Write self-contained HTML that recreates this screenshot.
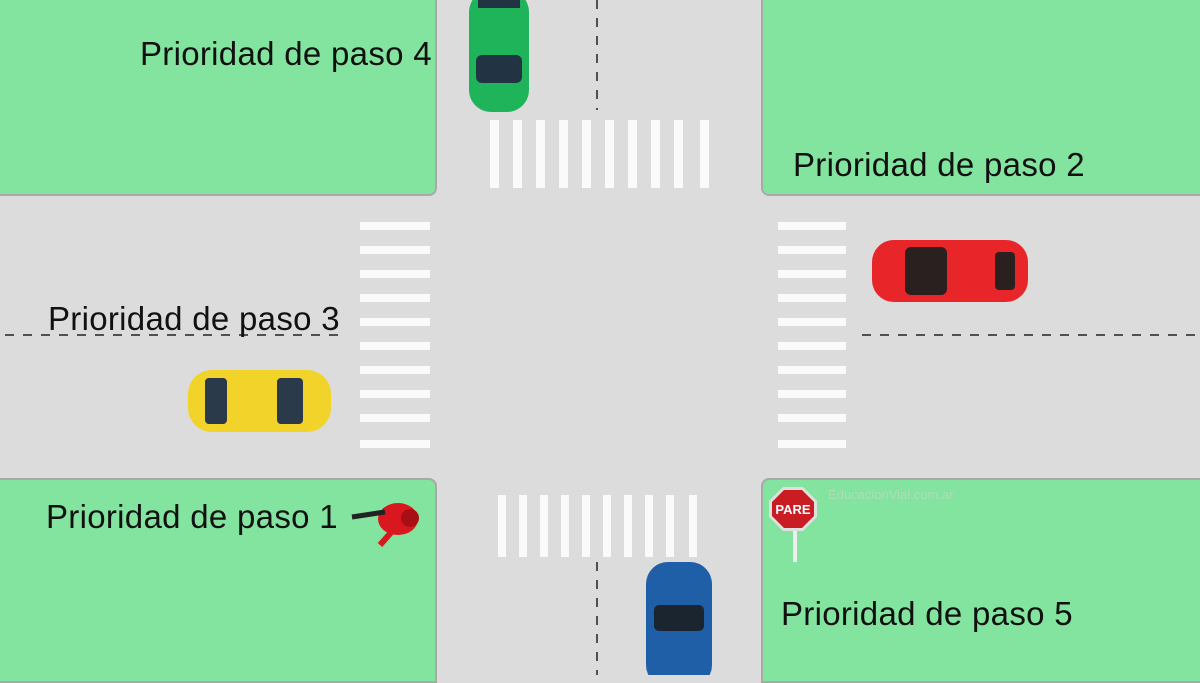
<!DOCTYPE html>
<html><head><meta charset="utf-8"><style>
body{margin:0;width:1200px;height:675px;overflow:hidden;background:#dcdcdc;font-family:"Liberation Sans",sans-serif;position:relative}
.g{position:absolute;background:#82e49e;border:2px solid #a9a9a9;box-sizing:border-box}
.t{position:absolute;font-size:33px;letter-spacing:0.3px;color:#111;white-space:nowrap}
</style></head><body>
<div class="g" style="left:-4px;top:-4px;width:441px;height:200px;border-radius:0 0 8px 0"></div>
<div class="g" style="left:761px;top:-4px;width:445px;height:200px;border-radius:0 0 0 8px"></div>
<div class="g" style="left:-4px;top:478px;width:441px;height:205px;border-radius:0 8px 0 0"></div>
<div class="g" style="left:761px;top:478px;width:445px;height:205px;border-radius:8px 0 0 0"></div>

<svg width="1200" height="675" style="position:absolute;left:0;top:0">
<g fill="#fafafa">
<rect x="490" y="120" width="9" height="68"/><rect x="513" y="120" width="9" height="68"/><rect x="536" y="120" width="9" height="68"/><rect x="559" y="120" width="9" height="68"/><rect x="582" y="120" width="9" height="68"/><rect x="605" y="120" width="9" height="68"/><rect x="628" y="120" width="9" height="68"/><rect x="651" y="120" width="9" height="68"/><rect x="674" y="120" width="9" height="68"/><rect x="700" y="120" width="9" height="68"/>
<rect x="498" y="495" width="8" height="62"/><rect x="519" y="495" width="8" height="62"/><rect x="540" y="495" width="8" height="62"/><rect x="561" y="495" width="8" height="62"/><rect x="582" y="495" width="8" height="62"/><rect x="603" y="495" width="8" height="62"/><rect x="624" y="495" width="8" height="62"/><rect x="645" y="495" width="8" height="62"/><rect x="666" y="495" width="8" height="62"/><rect x="689" y="495" width="8" height="62"/>
</g>
<g fill="#fafafa">
<rect x="360" y="222" width="70" height="8"/><rect x="360" y="246" width="70" height="8"/><rect x="360" y="270" width="70" height="8"/><rect x="360" y="294" width="70" height="8"/><rect x="360" y="318" width="70" height="8"/><rect x="360" y="342" width="70" height="8"/><rect x="360" y="366" width="70" height="8"/><rect x="360" y="390" width="70" height="8"/><rect x="360" y="414" width="70" height="8"/><rect x="360" y="440" width="70" height="8"/>
<rect x="778" y="222" width="68" height="8"/><rect x="778" y="246" width="68" height="8"/><rect x="778" y="270" width="68" height="8"/><rect x="778" y="294" width="68" height="8"/><rect x="778" y="318" width="68" height="8"/><rect x="778" y="342" width="68" height="8"/><rect x="778" y="366" width="68" height="8"/><rect x="778" y="390" width="68" height="8"/><rect x="778" y="414" width="68" height="8"/><rect x="778" y="440" width="68" height="8"/>
</g>
<g stroke="#222" stroke-width="1.5" stroke-dasharray="9,9">
<line x1="597" y1="0" x2="597" y2="110"/><line x1="597" y1="562" x2="597" y2="675"/>
<line x1="5" y1="335" x2="345" y2="335"/><line x1="862" y1="335" x2="1200" y2="335"/>
</g>
<rect x="469" y="-10" width="60" height="122" rx="22" fill="#1fb45a"/>
<rect x="476" y="55" width="46" height="28" rx="6" fill="#234"/>
<rect x="478" y="0" width="42" height="8" fill="#234"/>
<rect x="872" y="240" width="156" height="62" rx="22" fill="#e8262a"/>
<rect x="905" y="247" width="42" height="48" rx="6" fill="#2a2020"/>
<rect x="995" y="252" width="20" height="38" rx="4" fill="#2a2020"/>
<rect x="188" y="370" width="143" height="62" rx="24" fill="#f2d32a"/>
<rect x="205" y="378" width="22" height="46" rx="4" fill="#2a3a4a"/>
<rect x="277" y="378" width="26" height="46" rx="4" fill="#2a3a4a"/>
<rect x="646" y="562" width="66" height="125" rx="22" fill="#1f5fa8"/>
<rect x="654" y="605" width="50" height="26" rx="5" fill="#1a2530"/>
<ellipse cx="398" cy="519" rx="20" ry="16" fill="#d8171e"/>
<circle cx="410" cy="518" r="9" fill="#a80e14"/>
<line x1="352" y1="517" x2="385" y2="512" stroke="#222" stroke-width="5"/>
<line x1="380" y1="545" x2="395" y2="528" stroke="#d8171e" stroke-width="6"/>
<line x1="795" y1="525" x2="795" y2="562" stroke="#eee" stroke-width="4"/>
<polygon points="783,487 803,487 817,501 817,517 803,531 783,531 769,517 769,501" fill="#e0e0e0"/>
<polygon points="784,490 802,490 814,502 814,516 802,528 784,528 772,516 772,502" fill="#c91c23"/>
<text x="793" y="514" font-size="13" font-weight="bold" fill="#fff" text-anchor="middle" font-family="Liberation Sans">PARE</text>
<text x="828" y="499" font-size="13" fill="#aeddb8" font-family="Liberation Sans">EducacionVial.com.ar</text>
</svg>

<div class="t" style="left:140px;top:35px">Prioridad de paso 4</div>
<div class="t" style="left:793px;top:146px">Prioridad de paso 2</div>
<div class="t" style="left:48px;top:300px">Prioridad de paso 3</div>
<div class="t" style="left:46px;top:498px">Prioridad de paso 1</div>
<div class="t" style="left:781px;top:595px">Prioridad de paso 5</div>
</body></html>
